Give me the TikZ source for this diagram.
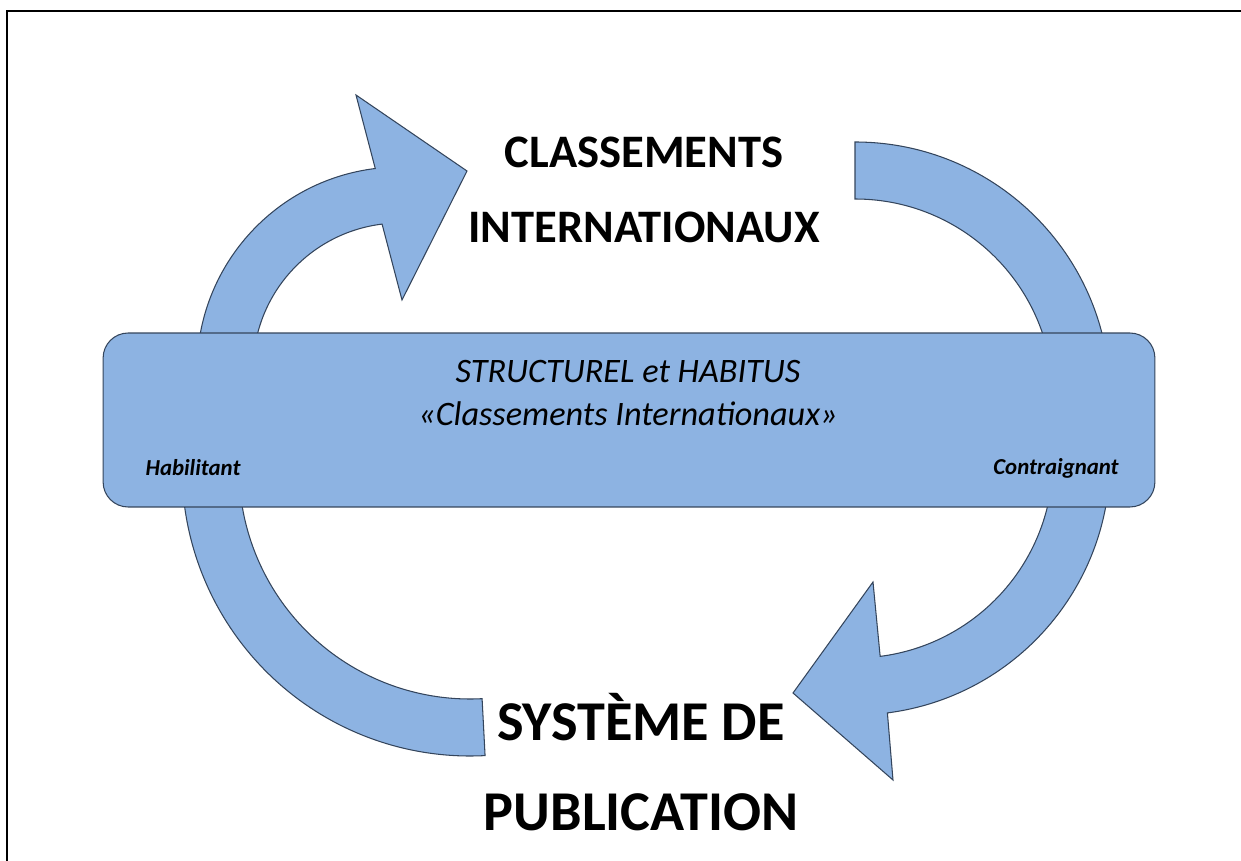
\documentclass[tikz,border=0pt]{standalone}
\usepackage{fontspec}
\setmainfont{Carlito}
\usetikzlibrary{positioning,calc}
\definecolor{bandblue}{HTML}{8DB3E2}
\definecolor{edgeblue}{HTML}{34455C}
\tikzstyle{blockarrow}=[fill=bandblue,draw=edgeblue,line width=0.6pt,line join=miter]
\tikzstyle{band}=[draw=edgeblue,fill=bandblue,line width=0.6pt,rounded corners=0.5cm,
minimum width=21.04cm,minimum height=3.48cm,inner sep=0pt]
\tikzstyle{title}=[align=center,inner sep=0pt]
\tikzstyle{side}=[font=\bfseries\itshape\fontsize{13}{15}\selectfont,inner sep=0pt]

\begin{document}
\begin{tikzpicture}[x=0.02cm,y=-0.02cm]
        \useasboundingbox (0,0) rectangle (1241,861);
        \draw[line width=1.7pt] (7,861) -- (7,11) -- (1241,11);

        \coordinate (upleft) at (400,370);
        \coordinate (lowleft) at (470,468);
        \coordinate (upright) at (855,397);
        \coordinate (lowright) at (855,460);

        % left arrow, going up
        \draw[blockarrow] ($(lowleft)+(87:231)$) -- ($(lowleft)+(87:288)$)
          arc[start angle=87,end angle=180,radius=288] -- ($(upleft)+(180:203)$)
          arc[start angle=180,end angle=263,radius=203]
          -- (356,95) -- (467,171) -- (402,300) -- ($(upleft)+(263:147)$)
          arc[start angle=263,end angle=180,radius=147] -- ($(lowleft)+(180:231)$)
          arc[start angle=180,end angle=87,radius=231] -- cycle;

        % right arrow, going down
        \draw[blockarrow] ($(upright)+(270:255)$)
          arc[start angle=270,end angle=360,radius=255] -- ($(lowright)+(0:255)$)
          arc[start angle=0,end angle=82.7,radius=255]
          -- (893,780) -- (793,693) -- (873,582) -- ($(lowright)+(82.7:198)$)
          arc[start angle=82.7,end angle=0,radius=198] -- ($(upright)+(0:198)$)
          arc[start angle=0,end angle=-90,radius=198] -- cycle;

        \node[band] at (629,420) (band) {};

        \node[title,font=\itshape\fontsize{19.5}{24.4}\selectfont] at (628,393) (habitus)
          {STRUCTUREL et HABITUS\\«Classements Internationaux»};
        \node[side] at (193,468) (habilitant) {Habilitant};
        \node[side] at (1056,468) (contraignant) {Contraignant};

        \node[title,font=\bfseries\fontsize{26.5}{43}\selectfont] at (644,190) (classements)
          {CLASSEMENTS\\INTERNATIONAUX};
        \node[title,font=\bfseries\fontsize{32}{51.6}\selectfont] at (641,762) (systeme)
          {SYSTÈME DE\\PUBLICATION};
      \end{tikzpicture}
\end{document}
